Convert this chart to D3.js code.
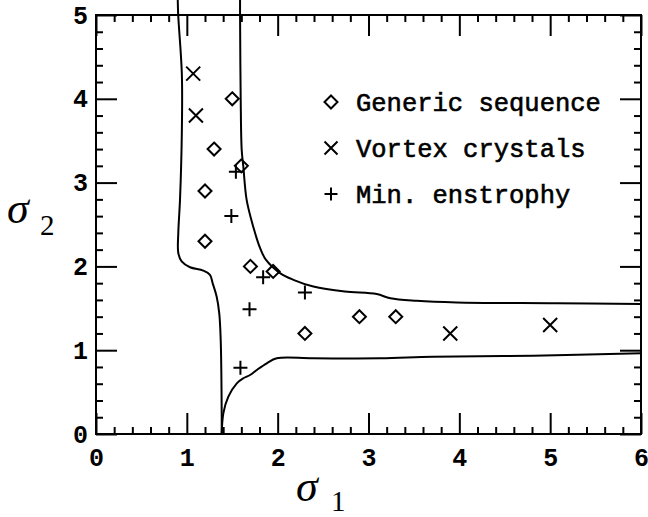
<!DOCTYPE html>
<html>
<head>
<meta charset="utf-8">
<script src="https://cdn.jsdelivr.net/npm/d3@7"></script>
<style>
  body { margin: 0; background: #fff; }
  .axis path.domain { display: none; }
  .axis line { stroke: #000; stroke-width: 2px; }
  .tick text { font-family: "Liberation Mono", monospace; font-weight: bold; font-size: 25px; fill: #000; }
</style>
</head>
<body>
<svg class="chart"></svg>
<script>
// boundary curves, [sigma1, sigma2]
const leftCurve = [[0.90,5.18],[0.905,5.0],[0.945,4.3],[0.945,3.6],[0.925,2.8],[0.906,2.4],[0.906,2.16],
  [0.943,2.06],[1.035,1.99],[1.18,1.95],[1.255,1.90],[1.284,1.80],[1.328,1.64],[1.357,1.44],
  [1.373,1.12],[1.38,0.72],[1.384,0.2],[1.384,0]];
const rightCurve = [[1.586,5.18],[1.586,5.0],[1.593,4.0],[1.604,3.39],[1.622,3.19],[1.659,2.79],
  [1.732,2.47],[1.806,2.22],[1.87,2.08],[2.026,1.92],[2.173,1.84],[2.393,1.76],[2.74,1.70],
  [3.09,1.67],[3.24,1.62],[3.53,1.59],[3.97,1.57],[5.07,1.56],[6.0,1.55]];
const lowerCurve = [[1.384,0],[1.402,0.247],[1.457,0.445],[1.55,0.605],[1.622,0.665],[1.696,0.704],
  [1.77,0.764],[1.88,0.844],[1.99,0.903],[2.39,0.903],[3.13,0.903],[3.71,0.922],[4.81,0.934],[6.0,0.963]];

// simulation points
const generic = [[1.5,4.0],[1.3,3.4],[1.6,3.2],[1.2,2.9],[1.2,2.3],[1.7,2.0],[1.95,1.94],[2.3,1.2],[2.9,1.4],[3.3,1.4]];
const vortex = [[1.07,4.3],[1.1,3.8],[3.9,1.2],[5.0,1.3]];
const minEnstrophy = [[1.54,3.13],[1.49,2.6],[1.84,1.87],[2.3,1.69],[1.69,1.49],[1.59,0.79]];

const legendLabels = ["Generic sequence", "Vortex crystals", "Min. enstrophy"];
const xTicks = [0,1,2,3,4,5,6];
const yTicks = [0,1,2,3,4,5];

const width = 648, height = 517;
const plot = {left: 96, right: 641, top: 15, bottom: 434};

let svg = d3.select(".chart")
    .attr("width", width)
    .attr("height", height);

let x = d3.scaleLinear().domain([0, 6]).range([plot.left, plot.right]);
let y = d3.scaleLinear().domain([0, 5]).range([plot.bottom, plot.top]);
let fmt = d3.format("d");

// minor ticks every 0.2
let xMinor = d3.range(0, 6.001, 0.2).filter(v => Math.abs(v - Math.round(v)) > 1e-6);
let yMinor = d3.range(0, 5.001, 0.2).filter(v => Math.abs(v - Math.round(v)) > 1e-6);

function addAxis(axis, transform) {
  svg.append("g")
      .attr("class", "axis")
      .attr("transform", transform)
      .call(axis);
}

// bottom + left with labels, top + right mirrored
addAxis(d3.axisBottom(x).tickValues(xTicks).tickSize(-21).tickPadding(14).tickFormat(fmt), "translate(0," + plot.bottom + ")");
addAxis(d3.axisBottom(x).tickValues(xMinor).tickSize(-7).tickFormat(""), "translate(0," + plot.bottom + ")");
addAxis(d3.axisLeft(y).tickValues(yTicks).tickSize(-21).tickPadding(8).tickFormat(fmt), "translate(" + plot.left + ",0)");
addAxis(d3.axisLeft(y).tickValues(yMinor).tickSize(-7).tickFormat(""), "translate(" + plot.left + ",0)");
addAxis(d3.axisTop(x).tickValues(xTicks).tickSize(-21).tickFormat(""), "translate(0," + plot.top + ")");
addAxis(d3.axisTop(x).tickValues(xMinor).tickSize(-7).tickFormat(""), "translate(0," + plot.top + ")");
addAxis(d3.axisRight(y).tickValues(yTicks).tickSize(-21).tickFormat(""), "translate(" + plot.right + ",0)");
addAxis(d3.axisRight(y).tickValues(yMinor).tickSize(-7).tickFormat(""), "translate(" + plot.right + ",0)");

svg.append("rect")
    .attr("x", plot.left)
    .attr("y", plot.top)
    .attr("width", plot.right - plot.left)
    .attr("height", plot.bottom - plot.top)
    .attr("fill", "none")
    .attr("stroke", "#000")
    .attr("stroke-width", 2);

// curves (they run past the top of the frame in the original)
let line = d3.line()
    .x(d => x(d[0]))
    .y(d => y(d[1]))
    .curve(d3.curveCatmullRom.alpha(0.5));

[leftCurve, rightCurve, lowerCurve].forEach(c => {
  svg.append("path")
      .attr("d", line(c))
      .attr("fill", "none")
      .attr("stroke", "#000")
      .attr("stroke-width", 2);
});

// marker shapes
const shapes = {
  diamond: r => "M0," + (-r) + "L" + r + ",0L0," + r + "L" + (-r) + ",0Z",
  cross: r => "M" + (-r) + "," + (-r) + "L" + r + "," + r + "M" + (-r) + "," + r + "L" + r + "," + (-r),
  plus: r => "M" + (-r) + ",0H" + r + "M0," + (-r) + "V" + r
};

function drawPoints(data, shape, r) {
  svg.append("g").selectAll("path")
      .data(data)
    .enter().append("path")
      .attr("transform", d => "translate(" + x(d[0]) + "," + y(d[1]) + ")")
      .attr("d", shapes[shape](r))
      .attr("fill", "none")
      .attr("stroke", "#000")
      .attr("stroke-width", 2);
}

drawPoints(generic, "diamond", 6.5);
drawPoints(vortex, "cross", 7);
drawPoints(minEnstrophy, "plus", 7);

// legend
let legend = svg.append("g")
    .selectAll("g")
    .data(legendLabels)
  .enter().append("g")
    .attr("transform", (d, i) => "translate(331," + (111 + i * 46) + ")");

legend.append("path")
    .attr("transform", "translate(0,-9)")
    .attr("d", (d, i) => shapes[["diamond", "cross", "plus"][i]](6.5))
    .attr("fill", "none")
    .attr("stroke", "#000")
    .attr("stroke-width", 2);

legend.append("text")
    .attr("x", 25)
    .style("font-family", "'Liberation Mono', monospace")
    .style("font-size", "25.5px")
    .style("stroke", "#000")
    .style("stroke-width", "0.6px")
    .text(d => d);

// axis titles
function sigma(xp, yp, sub, xs, ys) {
  svg.append("text")
      .attr("x", xp).attr("y", yp)
      .style("font-family", "'Liberation Serif', serif")
      .style("font-style", "italic")
      .style("font-size", "44px")
      .text("\u03c3");
  svg.append("text")
      .attr("x", xs).attr("y", ys)
      .style("font-family", "'Liberation Serif', serif")
      .style("font-size", "29px")
      .text(sub);
}
sigma(296, 501, "1", 331, 511);
sigma(7, 223, "2", 40, 235);
</script>
</body>
</html>
